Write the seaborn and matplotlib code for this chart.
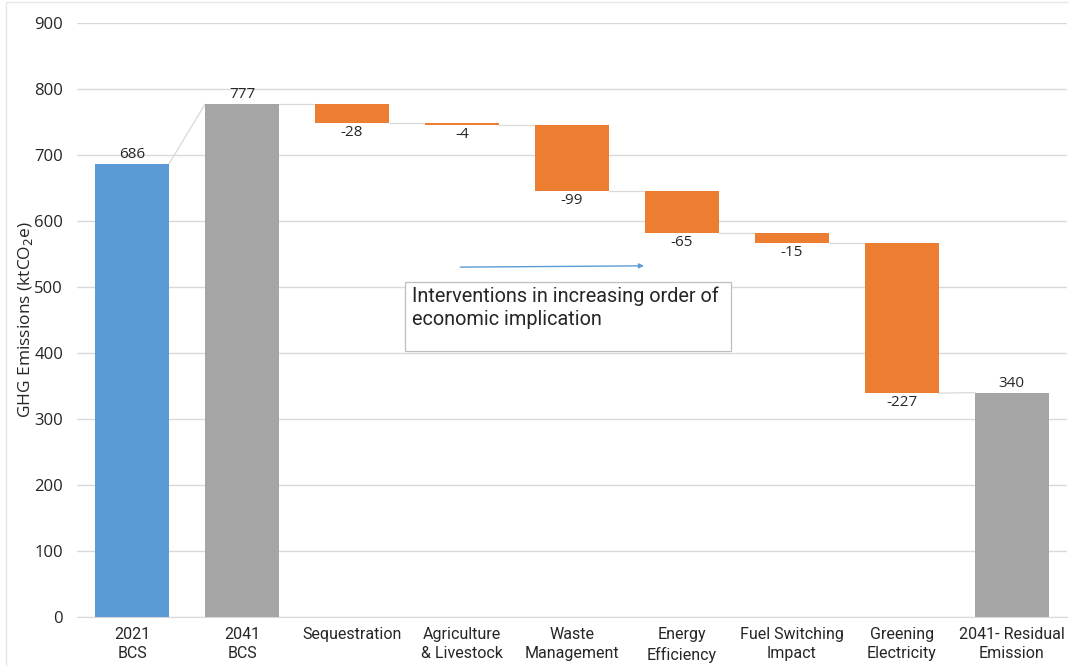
import matplotlib
matplotlib.use("Agg")
import matplotlib.pyplot as plt
import seaborn as sns
import pandas as pd
from matplotlib.patches import Rectangle

categories = ["2021\nBCS", "2041\nBCS", "Sequestration", "Agriculture\n& Livestock",
              "Waste\nManagement", "Energy\nEfficiency", "Fuel Switching\nImpact",
              "Greening\nElectricity", "2041- Residual\nEmission"]
values = [686, 777, -28, -4, -99, -65, -15, -227, 340]
kinds = ["start", "total", "delta", "delta", "delta", "delta", "delta", "delta", "total"]
labels = ["686", "777", "-28", "-4", "-99", "-65", "-15", "-227", "340"]
colors = ["#5B9BD5", "#A5A5A5", "#ED7D31", "#ED7D31", "#ED7D31", "#ED7D31",
          "#ED7D31", "#ED7D31", "#A5A5A5"]

# compute bottoms / tops
bottoms, tops = [], []
level = 0
for v, k in zip(values, kinds):
    if k in ("start", "total"):
        bottoms.append(0); tops.append(v); level = v
    else:
        new = level + v
        bottoms.append(new); tops.append(level); level = new

df = pd.DataFrame({"cat": categories, "height": [t - b for t, b in zip(tops, bottoms)]})

sns.set_style("white")
fig = plt.figure(figsize=(10.69, 6.66), dpi=100)
ax = fig.add_axes([0.072, 0.0736, 0.926, 0.892])

sns.barplot(data=df, x="cat", y="height", hue="cat", palette=colors, legend=False,
            width=0.67, saturation=1, ax=ax, zorder=3)
for p, b in zip(ax.patches, bottoms):
    p.set_y(b)
    p.set_edgecolor("none")

ax.set_ylim(0, 900)
ax.set_xlim(-0.5, len(categories) - 0.5)
ax.set_yticks(range(0, 901, 100))
ax.yaxis.grid(True, color="#d9d9d9", linewidth=1, zorder=0)
ax.set_axisbelow(True)
for s in ["top", "right", "left"]:
    ax.spines[s].set_visible(False)
ax.spines["bottom"].set_color("#d9d9d9")
ax.tick_params(axis="both", length=0)
ax.tick_params(axis="y", pad=10)
ax.tick_params(axis="x", pad=7)
ax.set_xlabel("")
ax.set_ylabel("GHG Emissions (ktCO$_2$e)", fontsize=12.5, family="Open Sans")
ax.yaxis.set_label_coords(-0.0425, 0.5)
for t in ax.get_yticklabels():
    t.set_family("Open Sans"); t.set_fontsize(12)
ax.set_xticks(range(len(categories)))
ax.set_xticklabels(categories, family="Roboto", fontsize=11.5, linespacing=1.38)

# connectors
hw = 0.335
levels_end = []
for i in range(len(values)):
    levels_end.append(tops[i] if kinds[i] in ("start", "total") else bottoms[i])
for i in range(len(values) - 1):
    y0 = levels_end[i]
    y1 = levels_end[i] if kinds[i + 1] == "delta" else tops[i + 1]
    if kinds[i] == "start":
        y1 = tops[i + 1]
    ax.plot([i + hw, i + 1 - hw], [y0, y1], color="#d9d9d9", linewidth=0.9, zorder=2)

# data labels
for i, (v, k, lab) in enumerate(zip(values, kinds, labels)):
    if k in ("start", "total"):
        ax.text(i, tops[i] + 3, lab, ha="center", va="bottom", fontsize=11, family="Open Sans")
    else:
        ax.text(i, bottoms[i] - 3, lab, ha="center", va="top", fontsize=11, family="Open Sans")

# annotation box + arrow
ax.add_patch(Rectangle((2.48, 403), 2.97, 105, facecolor="white", edgecolor="#bfbfbf",
                       linewidth=0.9, zorder=4))
ax.text(2.55, 501, "Interventions in increasing order of\neconomic implication",
        ha="left", va="top", fontsize=14.3, family="Roboto", zorder=5, linespacing=1.3)
ax.annotate("", xy=(4.68, 532), xytext=(2.96, 530),
            arrowprops=dict(arrowstyle="-|>", color="#5B9BD5", lw=1, mutation_scale=7), zorder=5)

# figure border
fig.patches.append(Rectangle((0.006, -0.01), 1.1, 1.007, transform=fig.transFigure,
                             fill=False, edgecolor="#e6e6e6", linewidth=1))

fig.savefig("out.png", dpi=100)
